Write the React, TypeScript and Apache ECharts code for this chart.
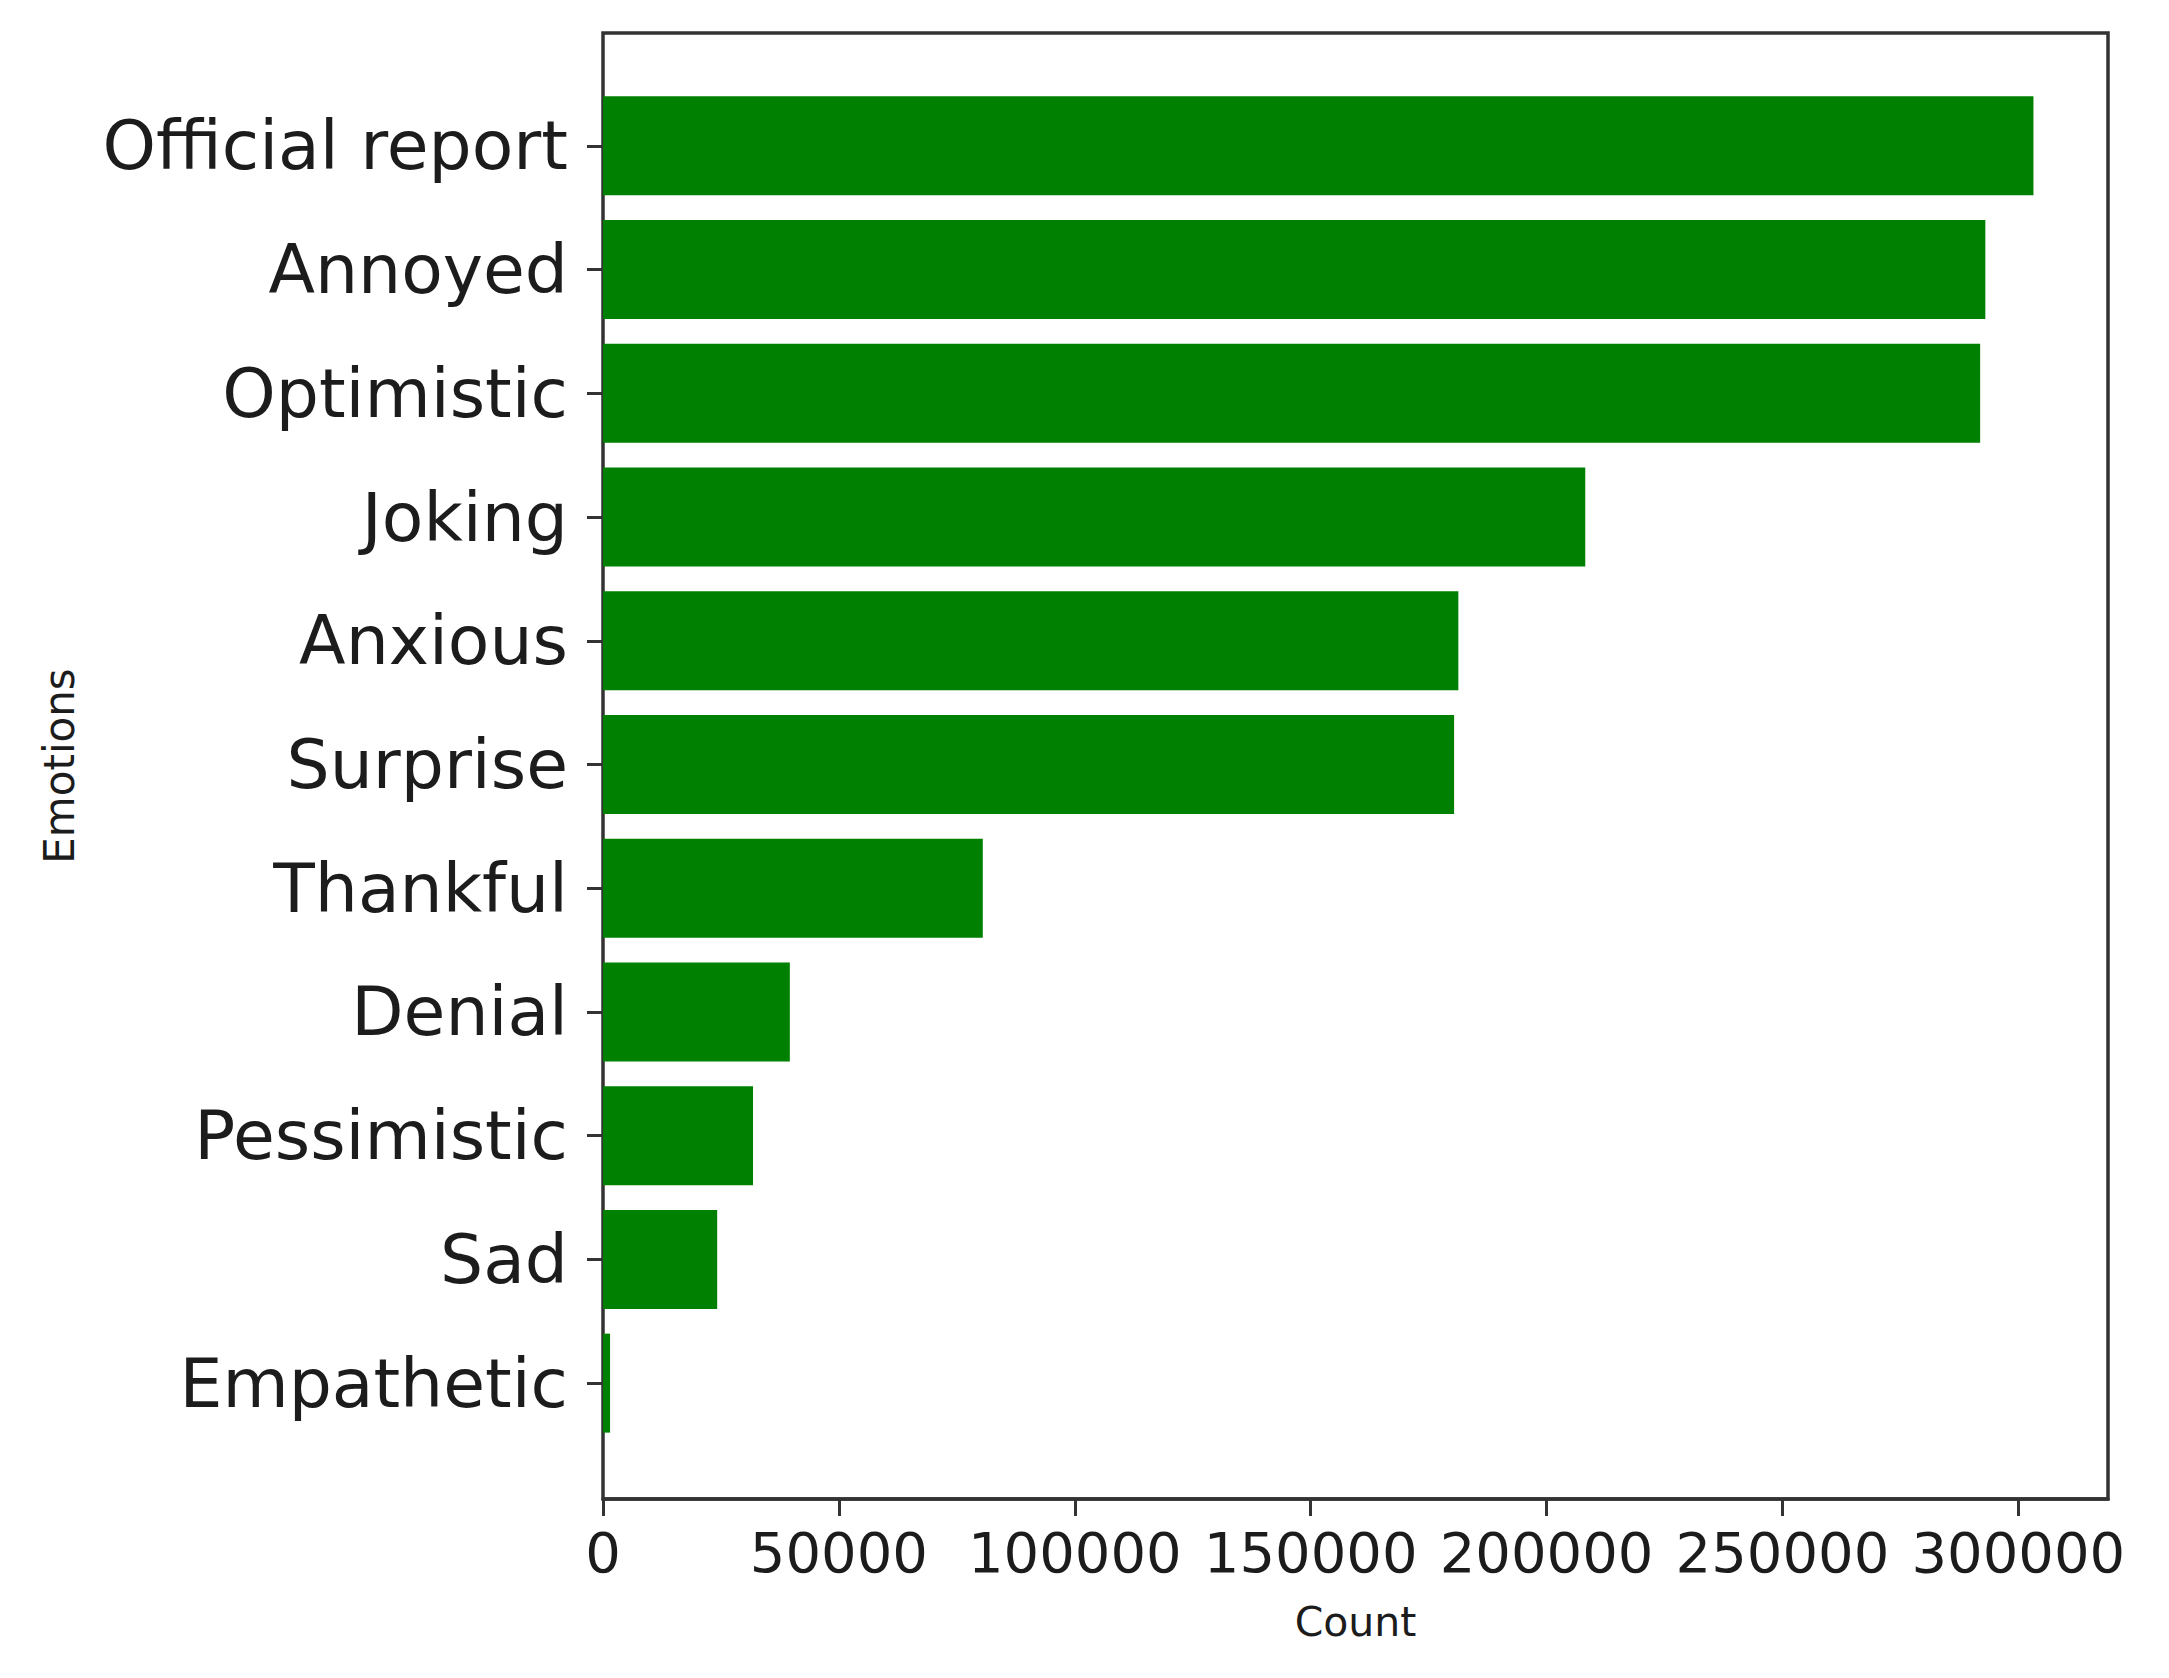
import React, { useEffect, useRef } from "react";
import * as echarts from "echarts";

const categories = [
  "Official report",
  "Annoyed",
  "Optimistic",
  "Joking",
  "Anxious",
  "Surprise",
  "Thankful",
  "Denial",
  "Pessimistic",
  "Sad",
  "Empathetic",
];
const counts = [303200, 293000, 291900, 208200, 181300, 180400, 80500, 39600, 31800, 24200, 1500];
const xTicks = [0, 50000, 100000, 150000, 200000, 250000, 300000];
const xMax = 319000;

export default function App() {
  const ref = useRef<HTMLDivElement>(null);
  useEffect(() => {
    if (!ref.current) return;
    const chart = echarts.init(ref.current, undefined, { renderer: "svg" });
    const ink = "#333";
    const txt = "#1c1c1c";
    chart.setOption({
      animation: false,
      backgroundColor: "#fff",
      textStyle: { fontFamily: "DejaVu Sans" },
      grid: [
        {
          left: 603,
          width: 1505,
          top: 33,
          height: 1466,
          show: true,
          borderColor: ink,
          borderWidth: 3.5,
          backgroundColor: "transparent",
        },
        { left: 603, width: 1505, top: 84, height: 1361 },
      ],
      xAxis: [
        {
          gridIndex: 0,
          type: "value",
          min: 0,
          max: xMax,
          interval: xTicks[1] - xTicks[0],
          splitLine: { show: false },
          axisLine: { show: true, lineStyle: { color: ink, width: 3.5 } },
          axisTick: { show: true, length: 17, lineStyle: { color: ink, width: 3 } },
          axisLabel: {
            fontSize: 56,
            color: txt,
            margin: 25,
            showMaxLabel: false,
            formatter: (v: number) => (xTicks.includes(v) ? String(v) : ""),
          },
          name: "Count",
          nameLocation: "middle",
          nameGap: 102,
          nameTextStyle: { fontSize: 41, color: txt },
        },
        {
          gridIndex: 1,
          type: "value",
          min: 0,
          max: xMax,
          show: false,
        },
      ],
      yAxis: [
        {
          gridIndex: 0,
          type: "value",
          min: 0,
          max: 1,
          axisLine: { show: false },
          axisTick: { show: false },
          axisLabel: { show: false },
          splitLine: { show: false },
          name: "Emotions",
          nameLocation: "middle",
          nameGap: 523,
          nameTextStyle: { fontSize: 42, color: txt },
        },
        {
          gridIndex: 1,
          type: "category",
          inverse: true,
          data: categories,
          axisLine: { show: false },
          axisTick: {
            show: true,
            alignWithLabel: true,
            length: 16,
            lineStyle: { color: ink, width: 3 },
          },
          axisLabel: { fontSize: 68, color: txt, margin: 35, padding: [8, 0, 0, 0] },
          splitLine: { show: false },
        },
      ],
      series: [
        {
          type: "bar",
          xAxisIndex: 1,
          yAxisIndex: 1,
          data: counts,
          barWidth: "80%",
          itemStyle: { color: "#008000" },
        },
      ],
    });
    return () => chart.dispose();
  }, []);
  return (
    <div
      ref={ref}
      style={{ position: "absolute", left: 0, top: 0, width: 2169, height: 1678 }}
    />
  );
}
